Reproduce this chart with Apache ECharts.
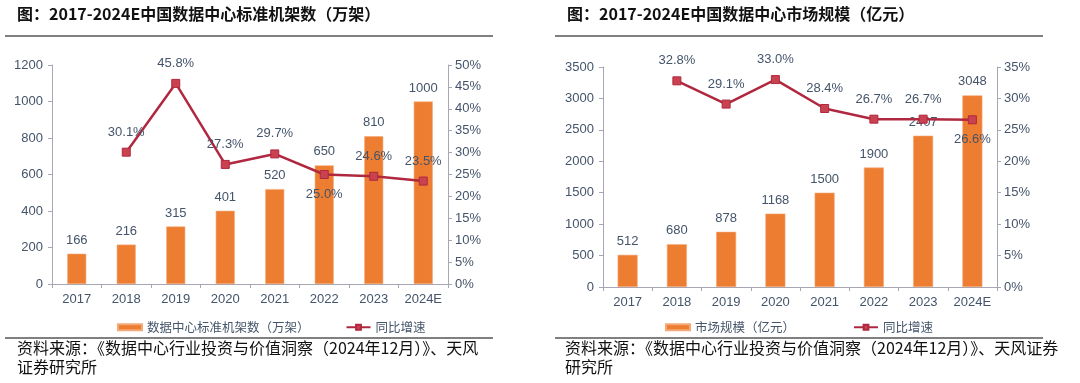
<!DOCTYPE html>
<html><head><meta charset="utf-8">
<script src="https://cdn.jsdelivr.net/npm/echarts@6/dist/echarts.min.js"></script>
<style>html,body{margin:0;padding:0;background:#fff;}#c{width:1080px;height:383px;}</style>
</head><body><div id="c"></div>
<script>
const categories = ['2017','2018','2019','2020','2021','2022','2023','2024E'];
const rackValues = [166, 216, 315, 401, 520, 650, 810, 1000];
const rackGrowth = [null, 30.1, 45.8, 27.3, 29.7, 25.0, 24.6, 23.5];
const rackGrowthLabelPos = [null,'top','top','top','top','bottom','top','top'];
const marketValues = [512, 680, 878, 1168, 1500, 1900, 2407, 3048];
const marketGrowth = [null, 32.8, 29.1, 33.0, 28.4, 26.7, 26.7, 26.6];
const marketGrowthLabelPos = [null,'top','top','top','top','top','top','bottom'];
const leftTitle = '图：2017-2024E中国数据中心标准机架数（万架）';
const rightTitle = '图：2017-2024E中国数据中心市场规模（亿元）';
const leftBarName = '数据中心标准机架数（万架）';
const rightBarName = '市场规模（亿元）';
const lineName = '同比增速';
const leftSource = ['资料来源：《数据中心行业投资与价值洞察（2024年12月）》、天风','证券研究所'];
const rightSource = ['资料来源：《数据中心行业投资与价值洞察（2024年12月）》、天风证券','研究所'];

const FONT = '"Liberation Sans", Arial, "Noto Sans CJK SC", sans-serif';
const CJK = '"Noto Sans CJK SC", "Liberation Sans", sans-serif';
const TXT = '#44546A';
const AX = '#A6A6B4';
const ORANGE = '#ED7D31';
const RED = '#B0283F';

function lineData(vals, pos) {
  return vals.map((v, i) => v == null ? null : ({value: v, label: {position: pos[i]}}));
}

function axes(gi, max, interval, rmax) {
  return {
    x: {
      type: 'category', gridIndex: gi, data: categories,
      axisLine: {lineStyle: {color: AX, width: 1}},
      axisTick: {show: true, alignWithLabel: false, length: 4, lineStyle: {color: AX}},
      axisLabel: {color: TXT, fontSize: 13, fontFamily: FONT, margin: 9}
    },
    y: [{
      type: 'value', gridIndex: gi, min: 0, max: max, interval: interval,
      axisLine: {show: true, lineStyle: {color: AX}},
      axisTick: {show: true, length: 4, lineStyle: {color: AX}},
      splitLine: {show: false},
      axisLabel: {color: TXT, fontSize: 13, fontFamily: FONT, margin: 9, formatter: v => String(v)}
    }, {
      type: 'value', gridIndex: gi, min: 0, max: rmax, interval: 5, position: 'right',
      axisLine: {show: true, lineStyle: {color: AX}},
      axisTick: {show: true, length: 4, lineStyle: {color: AX}},
      splitLine: {show: false},
      axisLabel: {color: TXT, fontSize: 13, fontFamily: FONT, margin: 7, formatter: v => v + '%'}
    }]
  };
}

const a0 = axes(0, 1200, 200, 50);
const a1 = axes(1, 3500, 500, 35);

function barSeries(name, data, xi, yi, w) {
  return {
    name: name, type: 'bar', xAxisIndex: xi, yAxisIndex: yi, data: data, barWidth: w,
    itemStyle: {color: ORANGE, borderColor: '#F4A978', borderWidth: 0.6},
    label: {show: true, position: 'top', distance: 7, color: TXT, fontSize: 13, fontFamily: FONT}
  };
}
function lineSeries(name, data, xi, yi) {
  return {
    name: name, type: 'line', xAxisIndex: xi, yAxisIndex: yi, data: data, z: 5,
    symbol: 'rect', symbolSize: 8, connectNulls: false,
    lineStyle: {color: RED, width: 2.5},
    itemStyle: {color: '#C8424F', borderColor: RED, borderWidth: 1},
    label: {show: true, distance: 9, color: TXT, fontSize: 13, fontFamily: FONT,
      formatter: p => p.value.toFixed(1) + '%'}
  };
}

function txt(x, y, s, size, bold) {
  return {type: 'text', left: x, top: y, style: {text: s, font: (bold ? 'bold ' : '') + size + 'px ' + CJK, fill: '#111'}};
}
function rule(x1, x2, y) {
  return {type: 'line', shape: {x1: x1, y1: y, x2: x2, y2: y}, style: {stroke: '#808080', lineWidth: 2}};
}

const option = {
  animation: false,
  backgroundColor: '#fff',
  grid: [
    {left: 52, top: 65, width: 396, height: 219},
    {left: 603, top: 67, width: 394, height: 220}
  ],
  xAxis: [a0.x, a1.x],
  yAxis: [a0.y[0], a0.y[1], a1.y[0], a1.y[1]],
  legend: [
    {left: 112, top: 316, itemWidth: 24, itemHeight: 6, itemGap: 36,
     textStyle: {color: TXT, fontSize: 12.5, fontFamily: CJK},
     data: [{name: leftBarName, icon: 'rect'}, {name: lineName}]},
    {left: 660, top: 316, itemWidth: 24, itemHeight: 6, itemGap: 58,
     textStyle: {color: TXT, fontSize: 12.5, fontFamily: CJK},
     data: [{name: rightBarName, icon: 'rect'}, {name: lineName + ' '}]}
  ],
  series: [
    barSeries(leftBarName, rackValues, 0, 0, 19),
    lineSeries(lineName, lineData(rackGrowth, rackGrowthLabelPos), 0, 1),
    barSeries(rightBarName, marketValues, 1, 2, 20),
    lineSeries(lineName + ' ', lineData(marketGrowth, marketGrowthLabelPos), 1, 3)
  ],
  graphic: [
    txt(17, 6, leftTitle, 16, true),
    txt(567, 6, rightTitle, 16, true),
    rule(5, 493, 36),
    rule(555, 1043, 36),
    rule(5, 493, 338),
    rule(555, 1043, 338),
    txt(17, 340, leftSource[0], 16, false),
    txt(17, 359, leftSource[1], 16, false),
    txt(565, 340, rightSource[0], 16, false),
    txt(565, 359, rightSource[1], 16, false)
  ]
};
echarts.init(document.getElementById('c')).setOption(option);
</script></body></html>
